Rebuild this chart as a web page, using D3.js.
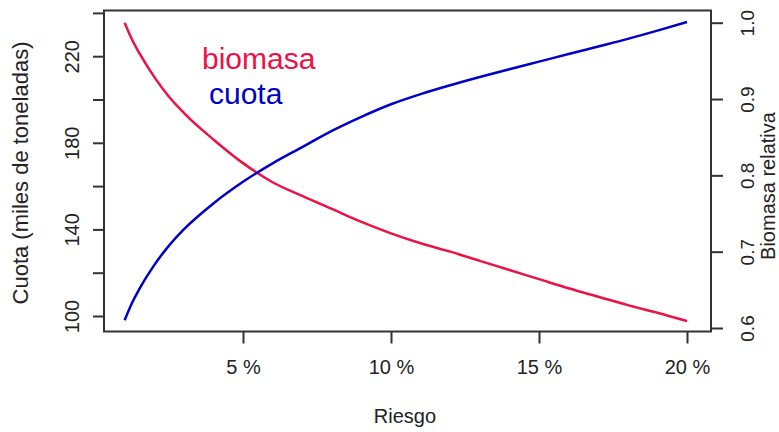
<!DOCTYPE html>
<html>
<head>
<meta charset="utf-8">
<script src="https://cdn.jsdelivr.net/npm/d3@7"></script>
<style>
  body { margin: 0; background: #fff; }
  svg { display: block; font-family: "Liberation Sans", Arial, sans-serif; }
</style>
</head>
<body>
<svg id="chart" width="779" height="432"></svg>
<script>
// risk (%), quota (thousand t) and relative biomass
var riesgo  = [1, 1.25, 1.5, 2, 2.5, 3, 4, 5, 6, 7, 8, 9, 10, 11, 12, 13, 14, 15, 16, 17, 18, 19, 20];
var cuota   = [98, 106, 112.5, 123.5, 132.5, 140, 152, 162, 170.5, 178, 185.5, 192, 197.8,
               202.5, 206.6, 210.4, 214.0, 217.5, 221, 224.5, 228, 231.8, 235.8];
var biomasa = [1.0, 0.978, 0.960, 0.929, 0.903, 0.882, 0.847, 0.816, 0.791, 0.773, 0.756, 0.739, 0.724,
               0.711, 0.700, 0.688, 0.676, 0.664, 0.652, 0.641, 0.630, 0.620, 0.609];

var xTicks = [5, 10, 15, 20];
var leftTicks = [100, 120, 140, 160, 180, 200, 220, 240];
var leftLabels = [100, 140, 180, 220];
var rightTicks = [0.6, 0.7, 0.8, 0.9, 1.0];

var red = "#ee1144", blue = "#0000c8";
var ink = "#222";

var svg = d3.select("#chart");

var x = d3.scaleLinear().domain([1, 20]).range([124.6, 687]);
var yL = d3.scaleLinear().domain([100, 240]).range([316, 12.9]);
var yR = d3.scaleLinear().domain([0.6, 1.0]).range([328, 22.7]);

// box
svg.append("rect")
  .attr("x", 104).attr("y", 10.5)
  .attr("width", 607).attr("height", 321)
  .attr("fill", "none").attr("stroke", "#333").attr("stroke-width", 2);

// bottom axis
var gx = svg.append("g").attr("transform", "translate(0,331.5)")
  .call(d3.axisBottom(x).tickValues(xTicks).tickSize(12).tickPadding(17)
    .tickFormat(function(d) { return d + " %"; }));
gx.select(".domain").remove();
gx.selectAll("line").attr("stroke", "#333").attr("stroke-width", 2);
gx.selectAll("text").attr("font-size", 20).attr("fill", ink)
  .attr("font-family", "Liberation Sans, Arial, sans-serif")
  .attr("dy", "0.65em");

// left axis
var gl = svg.append("g").attr("transform", "translate(104,0)")
  .call(d3.axisLeft(yL).tickValues(leftTicks).tickSize(11)
    .tickFormat(function(d) { return leftLabels.indexOf(d) >= 0 ? d : ""; }));
gl.select(".domain").remove();
gl.selectAll("line").attr("stroke", "#333").attr("stroke-width", 2);
gl.selectAll("text")
  .attr("font-size", 20).attr("fill", ink)
  .attr("font-family", "Liberation Sans, Arial, sans-serif")
  .attr("text-anchor", "middle").attr("dy", null)
  .attr("x", null)
  .attr("transform", "translate(-32,0) rotate(-90)")
  .attr("y", 7);

// right axis
var gr = svg.append("g").attr("transform", "translate(711,0)")
  .call(d3.axisRight(yR).tickValues(rightTicks).tickSize(12)
    .tickFormat(d3.format(".1f")));
gr.select(".domain").remove();
gr.selectAll("line").attr("stroke", "#333").attr("stroke-width", 2);
gr.selectAll("text")
  .attr("font-size", 19).attr("fill", ink)
  .attr("font-family", "Liberation Sans, Arial, sans-serif")
  .attr("text-anchor", "middle").attr("dy", null)
  .attr("x", null)
  .attr("transform", "translate(36,0) rotate(-90)")
  .attr("y", 7);

// titles
svg.append("text").attr("x", 405).attr("y", 423)
  .attr("text-anchor", "middle").attr("font-size", 20).attr("fill", ink)
  .text("Riesgo");
svg.append("text").attr("transform", "translate(28,173) rotate(-90)")
  .attr("text-anchor", "middle").attr("font-size", 22).attr("fill", ink)
  .text("Cuota (miles de toneladas)");
svg.append("text").attr("transform", "translate(775,186) rotate(-90)")
  .attr("text-anchor", "middle").attr("font-size", 20).attr("fill", ink)
  .text("Biomasa relativa");

// curves
var lineB = d3.line().x(function(d, i) { return x(riesgo[i]); })
  .y(function(d) { return yR(d); }).curve(d3.curveMonotoneX);
var lineC = d3.line().x(function(d, i) { return x(riesgo[i]); })
  .y(function(d) { return yL(d); }).curve(d3.curveMonotoneX);

svg.append("path").datum(biomasa).attr("d", lineB)
  .attr("fill", "none").attr("stroke", red).attr("stroke-width", 2.5);
svg.append("path").datum(cuota).attr("d", lineC)
  .attr("fill", "none").attr("stroke", blue).attr("stroke-width", 2.5);

// legend words
svg.append("text").attr("x", 202).attr("y", 69)
  .attr("font-size", 30).attr("fill", red).text("biomasa");
svg.append("text").attr("x", 209).attr("y", 104)
  .attr("font-size", 30).attr("fill", blue).text("cuota");
</script>
</body>
</html>
